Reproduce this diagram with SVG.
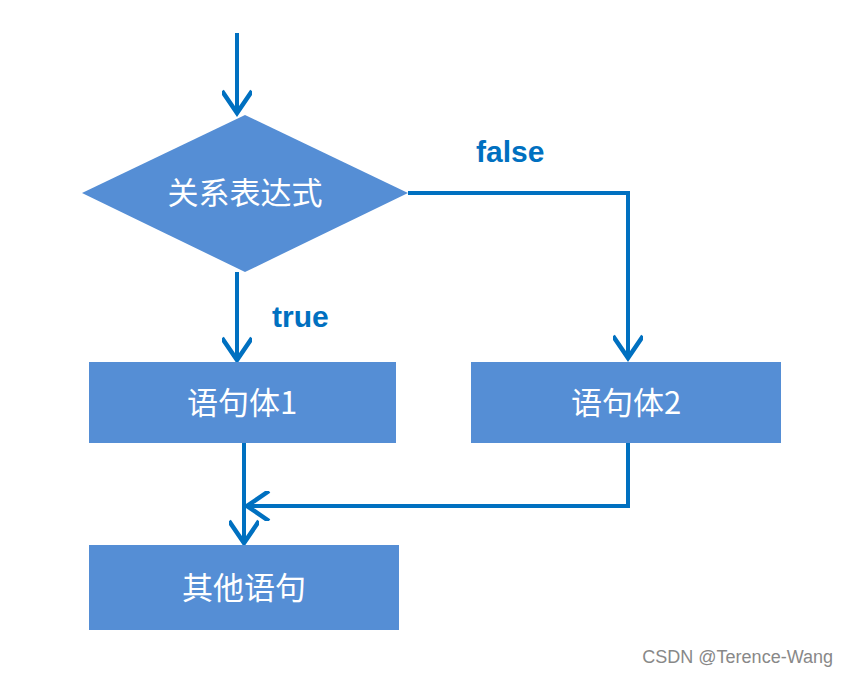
<svg xmlns="http://www.w3.org/2000/svg" width="848" height="676" viewBox="0 0 848 676">
<style>
.n{fill:#558ED5}
.t{fill:#fff;font-family:"Noto Sans CJK SC","Liberation Sans",sans-serif;font-size:31px;text-anchor:middle}
.c{fill:none;stroke:#0070C0;stroke-width:4}
.l{fill:#0070C0;font-family:"Liberation Sans",sans-serif;font-size:30px;font-weight:bold}
</style>
<defs><marker id="a" markerWidth="12" markerHeight="12" refX="10" refY="6" orient="auto" markerUnits="userSpaceOnUse" viewBox="0 0 12 12"><path d="M0,0 L10,6 L0,12" fill="none" stroke="#0070C0" stroke-width="1.6"/></marker>
<marker id="b" markerWidth="30" markerHeight="30" refX="24" refY="15" orient="auto" markerUnits="userSpaceOnUse" viewBox="0 0 30 30"><path d="M2,0 L24,15 L2,30" fill="none" stroke="#0070C0" stroke-width="4.5"/></marker></defs>
<rect width="848" height="676" fill="#fff"/>
<g id="connectors">
<path class="c" d="M237,33 V113" marker-end="url(#b)"/>
<path class="c" d="M237,272 V360" marker-end="url(#b)"/>
<path class="c" d="M408,193 H628 V358" marker-end="url(#b)"/>
<path class="c" d="M628,443 V506 H247" marker-end="url(#b)"/>
<path class="c" d="M244,443 V543" marker-end="url(#b)"/>
<text class="l" x="476" y="162">false</text>
<text class="l" x="272" y="327">true</text>
</g>
<g id="cond"><polygon class="n" points="82,193 245,115 408,193 245,272"/><text class="t" x="245" y="204">关系表达式</text></g>
<g id="s1"><rect class="n" x="89" y="362" width="307" height="81"/><text class="t" x="242" y="414">语句体1</text></g>
<g id="s2"><rect class="n" x="471" y="362" width="310" height="81"/><text class="t" x="626" y="414">语句体2</text></g>
<g id="s3"><rect class="n" x="89" y="545" width="310" height="85"/><text class="t" x="244" y="599">其他语句</text></g>
<text x="833" y="663" text-anchor="end" fill="#888" font-family="Liberation Sans,sans-serif" font-size="18">CSDN @Terence-Wang</text>
</svg>
